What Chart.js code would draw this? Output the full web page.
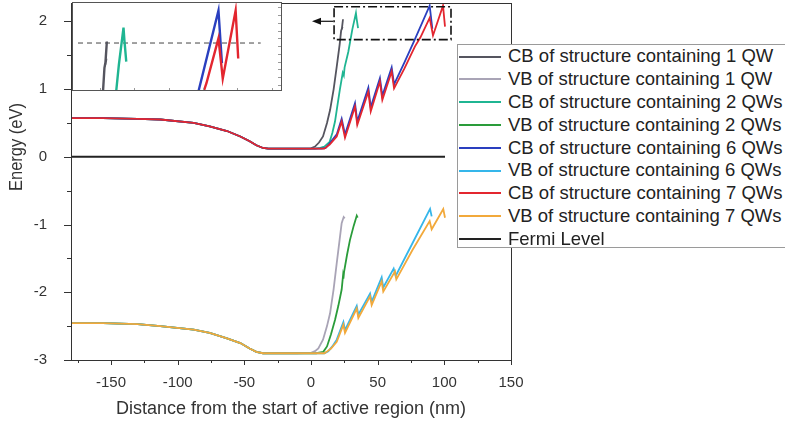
<!DOCTYPE html>
<html>
<head>
<meta charset="utf-8">
<script src="https://cdn.jsdelivr.net/npm/chart.js@4.4.1/dist/chart.umd.min.js"></script>
<style>
html, body { margin: 0; padding: 0; background: #fff; overflow: hidden; }
#wrap { position: relative; width: 785px; height: 427px; overflow: hidden; }
#main { position: absolute; left: 0; top: 0; }
#inset { position: absolute; left: 72px; top: 2px; }
#legend { position: absolute; left: 457px; top: 44px; width: 340px; height: 202px; border: 1px solid #9a9a9a; background: #fff;
  font-family: "Liberation Sans", Arial, sans-serif; font-size: 18.5px; color: #222; }
.row { position: absolute; left: 0; height: 22.8px; line-height: 22.8px; white-space: nowrap; width: 340px; }
.row i { position: absolute; left: 1px; top: 10.4px; width: 42px; height: 2px; }
.row span { position: absolute; left: 50px; }
</style>
</head>
<body>
<div id="wrap">
  <canvas id="main" width="785" height="427"></canvas>
  <canvas id="inset" width="210" height="89"></canvas>
  <div id="legend"></div>
</div>
<script>
// shared part of the band profile, left of the active region
const leftX  = [-180, -156, -130, -113, -88, -76, -63, -53, -46, -41, -36, -32, -10]
const leftCB = [0.57, 0.57, 0.56, 0.55, 0.50, 0.45, 0.38, 0.30, 0.23, 0.17, 0.13, 0.12, 0.12]
const leftVB = [-2.455, -2.455, -2.47, -2.50, -2.55, -2.60, -2.68, -2.75, -2.83, -2.88, -2.90, -2.90, -2.90]

// conduction / valence band in the active region
const cb1X = [0, 3, 6, 9, 12, 14.3, 17, 19.3, 21.5, 22.6, 23.6, 23.1, 24]
const cb1Y = [0.125, 0.15, 0.21, 0.3, 0.5, 0.69, 1.0, 1.33, 1.66, 1.86, 1.92, 1.88, 2.03]
const vb1X = [0, 3, 5.5, 9, 12, 14.3, 17, 19.3, 21.5, 23, 24.5, 25.3]
const vb1Y = [-2.895, -2.87, -2.83, -2.7, -2.5, -2.31, -1.95, -1.57, -1.22, -0.98, -0.89, -0.91]

const cb2X = [3, 7, 10, 14, 16, 18, 20, 21.7, 23.8, 24.6, 25.2, 28, 31, 33.7, 34.2, 35.3]
const cb2Y = [0.12, 0.13, 0.15, 0.22, 0.35, 0.52, 0.78, 1.0, 1.24, 1.2, 1.32, 1.55, 1.88, 2.12, 2.04, 1.9]
const vb2X = [4, 9.2, 12, 15, 18, 20.5, 23, 24, 24.3, 24.8, 27, 29.2, 32, 34.3, 35]
const vb2Y = [-2.9, -2.88, -2.8, -2.62, -2.41, -2.2, -1.96, -1.76, -1.8, -1.7, -1.45, -1.23, -1.02, -0.87, -0.9]

const cb6X = [8, 11, 14, 19.3, 23, 25.5, 33, 34.7, 43, 44.8, 51.7, 53.5, 60.5, 62.3, 70, 77.4, 89, 91]
const cb6Y = [0.12, 0.13, 0.2, 0.33, 0.56, 0.33, 0.79, 0.52, 1.02, 0.73, 1.16, 0.9, 1.32, 1.07, 1.39, 1.71, 2.23, 1.89]
const vb6X = [10, 13, 16, 19.3, 24.3, 25.5, 34.3, 35.5, 44.3, 45.5, 53, 54.2, 62, 63.5, 76, 89.3, 90.5]
const vb6Y = [-2.9, -2.87, -2.8, -2.7, -2.44, -2.56, -2.2, -2.33, -2.02, -2.14, -1.78, -1.93, -1.65, -1.76, -1.28, -0.77, -0.88]

const cb7X = [10, 14, 19.3, 23, 25.5, 33, 34.7, 43, 44.8, 51.7, 53.5, 60.5, 62.3, 70, 78, 82, 89, 91.5, 99, 100.5]
const cb7Y = [0.12, 0.18, 0.3, 0.52, 0.28, 0.74, 0.47, 0.96, 0.67, 1.11, 0.84, 1.26, 1.01, 1.3, 1.63, 1.76, 2.05, 1.79, 2.23, 1.92]
const vb7X = [10, 11.7, 15, 19.3, 24.3, 25.5, 34.3, 35.5, 44.3, 45.5, 53, 54.2, 63, 64, 76, 89, 90.5, 99.2, 100.5]
const vb7Y = [-2.9, -2.88, -2.83, -2.73, -2.48, -2.6, -2.24, -2.38, -2.06, -2.19, -1.84, -1.99, -1.69, -1.81, -1.38, -0.95, -1.07, -0.77, -0.9]

const fermiX = [-180, 100.5]
const fermiY = [0, 0]

const xTicks = [-150, -100, -50, 0, 50, 100, 150]
const xMinor = [-175, -125, -75, -25, 25, 75, 125]
const yTicks = [-3, -2, -1, 0, 1, 2]
const yMinor = [-2.5, -1.5, -0.5, 0.5, 1.5]

const labels = [
  'CB of structure containing 1 QW', 'VB of structure containing 1 QW',
  'CB of structure containing 2 QWs', 'VB of structure containing 2 QWs',
  'CB of structure containing 6 QWs', 'VB of structure containing 6 QWs',
  'CB of structure containing 7 QWs', 'VB of structure containing 7 QWs',
  'Fermi Level'
]
const colors = ['#55555f', '#a9a4b6', '#1fb592', '#2a9c3a', '#2a3fbf', '#35b6ea', '#e3262f', '#f2a93b', '#222222']
const drawOrder = [4, 4, 3, 3, 2, 2, 1, 1, 0]

const family = '"Liberation Sans", Arial, sans-serif'

const pts = (xs, ys) => xs.map((x, i) => ({ x: x, y: ys[i] }))
const series = [
  pts(leftX.concat(cb1X), leftCB.concat(cb1Y)),
  pts(leftX.concat(vb1X), leftVB.concat(vb1Y)),
  pts(leftX.concat(cb2X), leftCB.concat(cb2Y)),
  pts(leftX.concat(vb2X), leftVB.concat(vb2Y)),
  pts(leftX.concat(cb6X), leftCB.concat(cb6Y)),
  pts(leftX.concat(vb6X), leftVB.concat(vb6Y)),
  pts(leftX.concat(cb7X), leftCB.concat(cb7Y)),
  pts(leftX.concat(vb7X), leftVB.concat(vb7Y)),
  pts(fermiX, fermiY)
]

const frameTicks = {
  id: 'frameTicks',
  afterDraw(chart) {
    const { ctx, chartArea: a, scales: { x, y } } = chart
    ctx.save()
    ctx.strokeStyle = '#333'
    ctx.lineWidth = 1
    ctx.strokeRect(a.left + 0.5, a.top + 0.5, a.right - a.left, a.bottom - a.top)
    ctx.beginPath()
    xTicks.forEach(v => { const p = Math.round(x.getPixelForValue(v)) + 0.5; ctx.moveTo(p, a.bottom); ctx.lineTo(p, a.bottom + 5) })
    xMinor.forEach(v => { const p = Math.round(x.getPixelForValue(v)) + 0.5; ctx.moveTo(p, a.bottom); ctx.lineTo(p, a.bottom + 3) })
    yTicks.forEach(v => { const p = Math.round(y.getPixelForValue(v)) + 0.5; ctx.moveTo(a.left, p); ctx.lineTo(a.left - 7, p) })
    yMinor.forEach(v => { const p = Math.round(y.getPixelForValue(v)) + 0.5; ctx.moveTo(a.left, p); ctx.lineTo(a.left - 4, p) })
    ctx.stroke()

    // y title
    ctx.fillStyle = '#333'
    ctx.font = '16.5px ' + family
    ctx.translate(17, 147)
    ctx.scale(1.15, 1)
    ctx.rotate(-Math.PI / 2)
    ctx.textAlign = 'center'
    ctx.textBaseline = 'middle'
    ctx.fillText('Energy (eV)', 0, 0)
    ctx.restore()
  }
}

const zoomBox = {
  id: 'zoomBox',
  afterDatasetsDraw(chart) {
    const { ctx, scales: { x, y } } = chart
    const x0 = x.getPixelForValue(17.3), x1 = x.getPixelForValue(105)
    const y0 = y.getPixelForValue(2.215), y1 = y.getPixelForValue(1.73)
    ctx.save()
    ctx.strokeStyle = '#111'
    ctx.lineWidth = 1.6
    ctx.setLineDash([9, 3, 2, 3])
    ctx.strokeRect(x0, y0, x1 - x0, y1 - y0)
    ctx.setLineDash([])
    const ay = y.getPixelForValue(2.0)
    const ax0 = x.getPixelForValue(16.5), ax1 = x.getPixelForValue(0.75)
    ctx.lineWidth = 1.2
    ctx.beginPath()
    ctx.moveTo(ax0, ay); ctx.lineTo(ax1 + 8, ay)
    ctx.stroke()
    ctx.fillStyle = '#111'
    ctx.beginPath()
    ctx.moveTo(ax1, ay); ctx.lineTo(ax1 + 9, ay - 3.5); ctx.lineTo(ax1 + 9, ay + 3.5); ctx.closePath()
    ctx.fill()
    ctx.restore()
  }
}

new Chart(document.getElementById('main').getContext('2d'), {
  type: 'line',
  data: {
    datasets: series.map((d, i) => ({
      label: labels[i], data: d, borderColor: colors[i], backgroundColor: colors[i],
      borderWidth: i === 8 ? 2 : 1.8, pointRadius: 0, tension: 0, order: drawOrder[i]
    }))
  },
  options: {
    responsive: false, animation: false, devicePixelRatio: 1,
    layout: { padding: { top: 3, right: 274, left: 0, bottom: 0 } },
    plugins: { legend: { display: false }, tooltip: { enabled: false } },
    scales: {
      x: {
        type: 'linear', min: -180, max: 150,
        afterBuildTicks: s => { s.ticks = xTicks.map(v => ({ value: v })) },
        afterFit: s => { s.height = 67; s.paddingLeft = 0; s.paddingRight = 0 },
        grid: { display: false }, border: { display: false },
        ticks: { color: '#333', font: { family: family, size: 15 }, padding: 6, maxRotation: 0 },
        title: { display: true, text: 'Distance from the start of active region (nm)', color: '#333',
          font: { family: family, size: 18 }, padding: { top: 0, bottom: 7 } }
      },
      y: {
        type: 'linear', min: -3, max: 2.27,
        afterBuildTicks: s => { s.ticks = yTicks.map(v => ({ value: v })) },
        afterFit: s => { s.width = 71; s.paddingTop = 0; s.paddingBottom = 0 },
        grid: { display: false }, border: { display: false },
        ticks: { color: '#333', font: { family: family, size: 15 }, padding: 16 }
      }
    }
  },
  plugins: [frameTicks, zoomBox]
})

// inset: magnified top of the curves
const insetRefX = [7.2, 113.6]
const insetRefY = [2.02, 2.02]

const insetFrame = {
  id: 'insetFrame',
  beforeDraw(chart) {
    const { ctx, width, height } = chart
    ctx.save(); ctx.fillStyle = '#fff'; ctx.fillRect(0, 0, width, height); ctx.restore()
  },
  afterDraw(chart) {
    const { ctx, chartArea: a, scales: { x, y } } = chart
    ctx.save()
    ctx.strokeStyle = '#999'
    ctx.lineWidth = 1
    ctx.beginPath()
    for (let v = 1.75; v < 2.28; v += 0.05) { const p = Math.round(y.getPixelForValue(v)) + 0.5; ctx.moveTo(a.right - 1, p); ctx.lineTo(a.right - 4, p) }
    for (let v = 20; v < 126; v += 20) { const p = Math.round(x.getPixelForValue(v)) + 0.5; ctx.moveTo(p, a.bottom - 1); ctx.lineTo(p, a.bottom - 3) }
    ctx.stroke()
    ctx.strokeStyle = '#555'
    ctx.strokeRect(0.5, 0.5, chart.width - 1, chart.height - 1)
    ctx.restore()
  }
}

new Chart(document.getElementById('inset').getContext('2d'), {
  type: 'line',
  data: {
    datasets: [
      { data: pts(insetRefX, insetRefY), borderColor: '#444', borderWidth: 1, borderDash: [5, 4], pointRadius: 0, order: 9 }
    ].concat([0, 2, 4, 6].map(i => ({
      data: series[i], borderColor: colors[i], borderWidth: 2.4, pointRadius: 0, tension: 0, order: drawOrder[i]
    })))
  },
  options: {
    responsive: false, animation: false, devicePixelRatio: 1,
    layout: { padding: 0 },
    plugins: { legend: { display: false }, tooltip: { enabled: false } },
    scales: {
      x: { type: 'linear', min: 3.7, max: 126, display: false },
      y: { type: 'linear', min: 1.71, max: 2.285, display: false }
    }
  },
  plugins: [insetFrame]
})

// legend
const legend = document.getElementById('legend')
labels.forEach((t, i) => {
  const row = document.createElement('div')
  row.className = 'row'
  row.style.top = (0.3 + 22.8 * i) + 'px'
  const sw = document.createElement('i')
  sw.style.background = colors[i]
  const tx = document.createElement('span')
  tx.textContent = t
  row.appendChild(sw); row.appendChild(tx)
  legend.appendChild(row)
})
</script>
</body>
</html>
